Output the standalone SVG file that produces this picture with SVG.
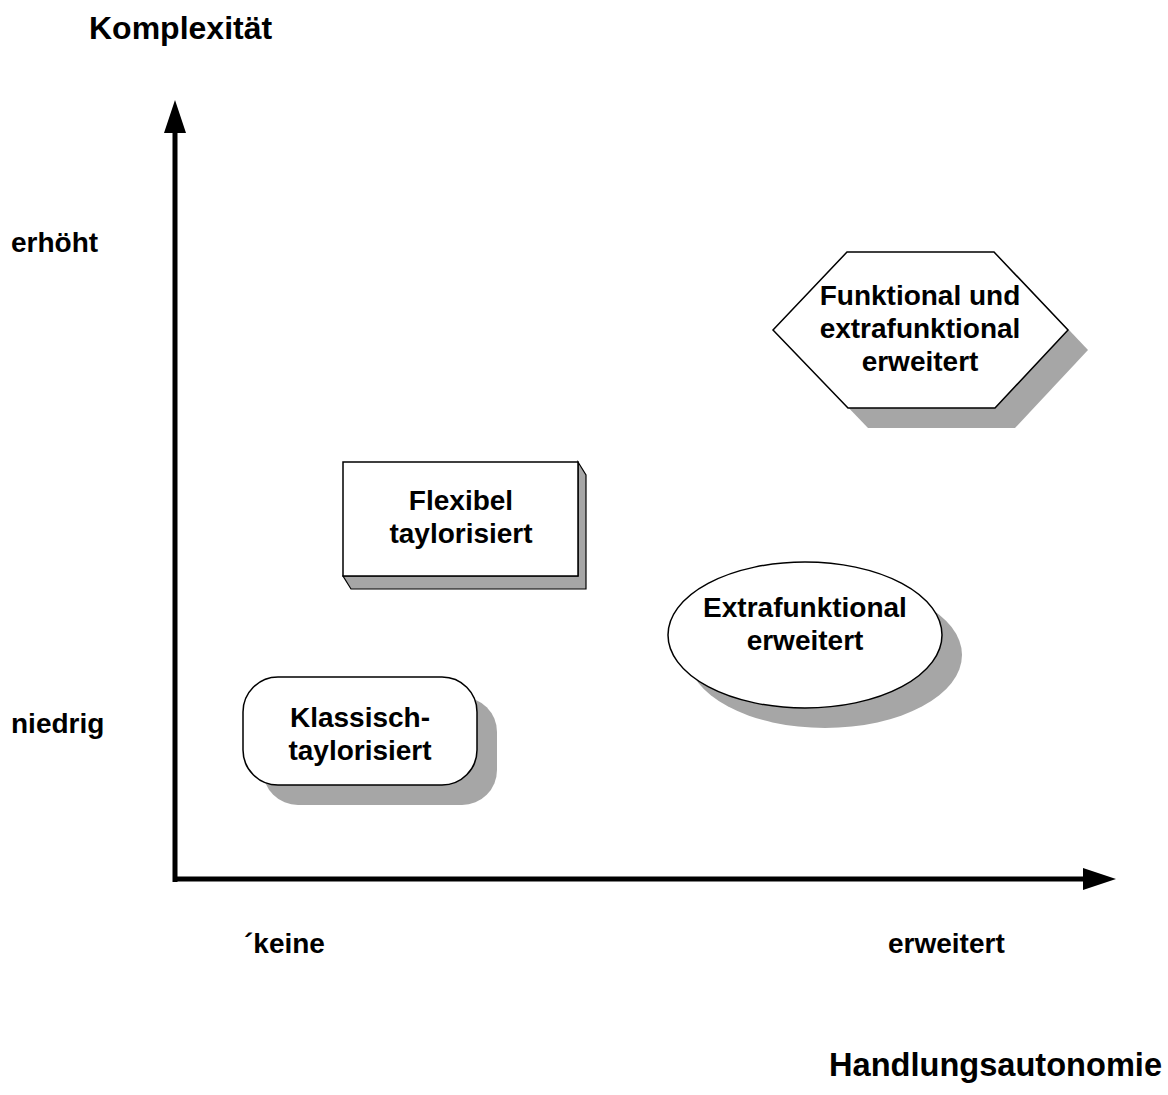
<svg xmlns="http://www.w3.org/2000/svg" width="1168" height="1095" viewBox="0 0 1168 1095">
<style>
text{font-family:"Liberation Sans",Arial,sans-serif;font-weight:bold;fill:#000}
.t{font-size:32px}
.l{font-size:28px}
.c{text-anchor:middle}
.sh{fill:#a6a6a6;stroke:none}
.n{fill:#fff;stroke:#000;stroke-width:1.5}
.ax{stroke:#000;stroke-width:5;fill:none}
</style>
<defs>
<marker id="ah" markerUnits="userSpaceOnUse" markerWidth="34" markerHeight="24" refX="0" refY="12" orient="auto" viewBox="0 0 34 24">
<path d="M0,1 L33,12 L0,23 Z" fill="#000"/>
</marker>
</defs>
<rect width="1168" height="1095" fill="#fff"/>
<text class="t" x="89" y="39">Komplexität</text>
<text class="l" x="11" y="252">erhöht</text>
<text class="l" x="11" y="733">niedrig</text>
<text class="l" x="244" y="953">´keine</text>
<text class="l" x="888" y="953">erweitert</text>
<text class="t" x="829" y="1076" style="font-size:32.6px">Handlungsautonomie</text>
<g id="connectors">
<line class="ax" x1="175" y1="882" x2="175" y2="133" marker-end="url(#ah)"/>
<line class="ax" x1="173" y1="879" x2="1083" y2="879" marker-end="url(#ah)"/>
</g>
<g id="node-klassisch">
<rect class="sh" x="263" y="697" width="234" height="108" rx="35"/>
<rect class="n" x="243" y="677" width="234" height="108" rx="35"/>
<text class="l c" x="360" y="727">Klassisch-</text>
<text class="l c" x="360" y="760">taylorisiert</text>
</g>
<g id="node-flexibel">
<path d="M578,462 L586,475 L586,589 L351,589 L343,576 L578,576 Z" fill="#a6a6a6" stroke="#000" stroke-width="1.2"/>
<rect class="n" x="343" y="462" width="235" height="114"/>
<text class="l c" x="461" y="510">Flexibel</text>
<text class="l c" x="461" y="543">taylorisiert</text>
</g>
<g id="node-extrafunktional">
<ellipse class="sh" cx="825" cy="655" rx="137" ry="73"/>
<ellipse class="n" cx="805" cy="635" rx="137" ry="73"/>
<text class="l c" x="805" y="617">Extrafunktional</text>
<text class="l c" x="805" y="650">erweitert</text>
</g>
<g id="node-funktional">
<polygon class="sh" points="867,272 1014,272 1088,350 1015,428 868,428 793,350"/>
<polygon class="n" points="847,252 994,252 1068,330 995,408 848,408 773,330"/>
<text class="l c" x="920" y="305">Funktional und</text>
<text class="l c" x="920" y="338">extrafunktional</text>
<text class="l c" x="920" y="371">erweitert</text>
</g>
</svg>
